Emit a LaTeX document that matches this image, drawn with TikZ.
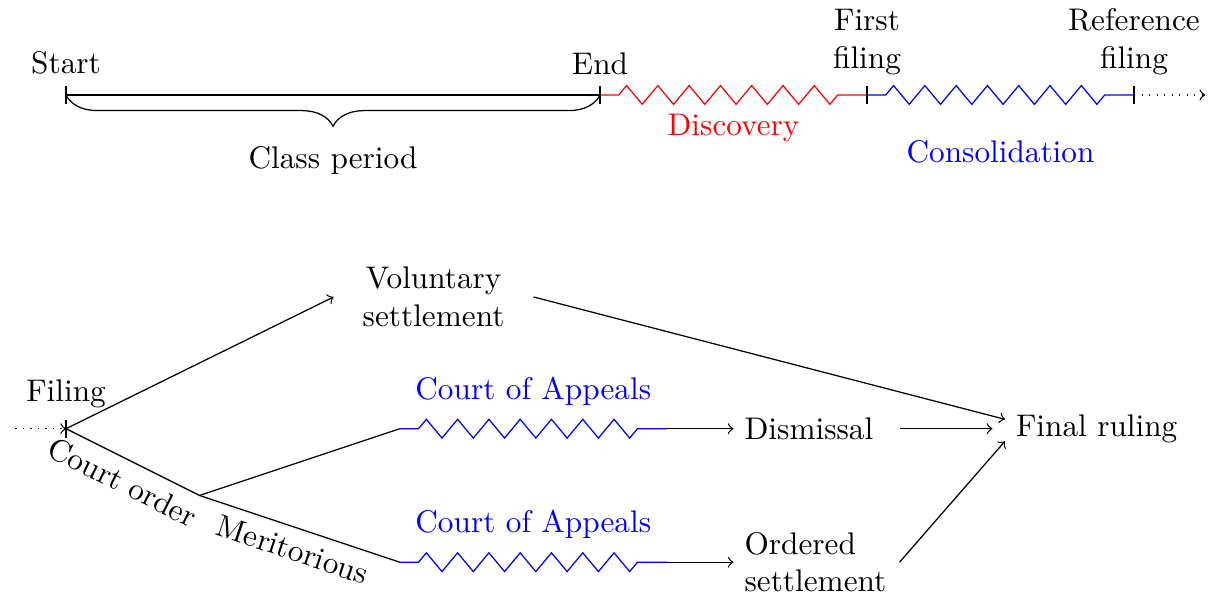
\documentclass[tikz,border=0pt]{standalone}
\usetikzlibrary{decorations.pathreplacing,decorations.pathmorphing}
\begin{document}
\begin{tikzpicture}[zz/.style={decorate,decoration={zigzag,segment length=10pt,amplitude=3pt,pre length=6pt,post length=6pt}},
    outcome/.style={align=left,text width=46pt}]
  \useasboundingbox (-0.742,1.067) rectangle (12.865,-5.663);
  % time line
  \coordinate (start) at (0,0);
  \coordinate (end) at (6,0);
  \coordinate (first) at (9,0);
  \coordinate (ref) at (12,0);
  \coordinate (later) at (12.8,0);
  \node[above=3pt] (lstart) at (start) {Start};
  \node[above=3pt] (lend) at (end) {End};
  \node[above=3pt,align=center] (lfirst) at (first) {First\\filing};
  \node[above=3pt,align=center] (lref) at (ref) {Reference\\filing};
  \draw (start) -- (end);
  \draw[decorate,decoration={brace,mirror,amplitude=10pt}] (start) -- (end) node[midway,below=13pt] (lclass) {Class period};
  \draw[red,zz] (end) -- (first) node[midway,below=2.5pt,red] (ldisc) {Discovery};
  \draw[blue,zz] (first) -- (ref) node[midway,below=11pt,blue] (lcons) {Consolidation};
  \draw[dotted,->] (ref) -- (later);
  % case paths
  \coordinate (before) at (-0.57,-3.75);
  \coordinate (filing) at (0,-3.75);
  \coordinate (order) at (1.5,-4.5);
  \coordinate (appA) at (3.75,-3.75);
  \coordinate (appAend) at (6.75,-3.75);
  \coordinate (appB) at (3.75,-5.25);
  \coordinate (appBend) at (6.75,-5.25);
  \foreach \t in {start,end,first,ref,filing} \draw ([yshift=0.1cm]\t) -- ([yshift=-0.1cm]\t);
  \node[above=3pt] (lfiling) at (filing) {Filing};
  \node[align=center,text width=2cm] (vol) at (4.13,-2.27) {Voluntary\\settlement};
  \node[outcome,anchor=west] (dis) at (7.5,-3.75) {Dismissal};
  \node[outcome,anchor=west] (ord) at (7.5,-5.25) {Ordered\\settlement};
  \node[anchor=west] (final) at (10.55,-3.75) {Final ruling};
  \draw[dotted,->] (before) -- (filing);
  \draw[->] (filing) -- (vol.west);
  \draw (filing) -- (order) node[midway,sloped,below] {Court order};
  \draw (order) -- (appA);
  \draw (order) -- (appB) node[midway,sloped,below] {Meritorious};
  \draw[blue,zz] (appA) -- (appAend) node[midway,above=4pt] {Court of Appeals};
  \draw[blue,zz] (appB) -- (appBend) node[midway,above=4pt] {Court of Appeals};
  \draw[->] (appAend) -- (dis);
  \draw[->] (appBend) -- (ord);
  \draw[->] (vol.east) -- ([yshift=3pt]final.west);
  \draw[->,shorten >=4pt] (dis) -- (final);
  \draw[->] (ord.east) -- ([yshift=-4pt]final.west);
\end{tikzpicture}
\end{document}
